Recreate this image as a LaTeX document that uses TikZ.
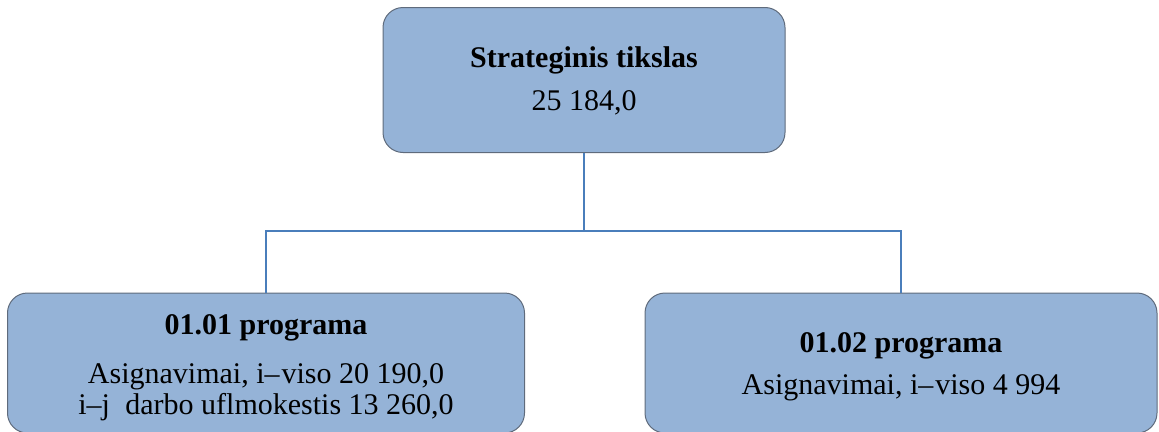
\documentclass[tikz,border=0pt]{standalone}
\usepackage{fontspec}
\setmainfont{Liberation Serif}
\definecolor{boxfill}{HTML}{95B3D7}
\definecolor{boxline}{HTML}{5F6B7C}
\definecolor{conn}{HTML}{4A7EBB}
\begin{document}
\begin{tikzpicture}[x=1pt,y=-1pt,
  box/.style={draw=boxline, line width=1pt, fill=boxfill, rounded corners=20pt, inner sep=0pt, minimum width=#1},
  link/.style={draw=conn, line width=2.6pt},
  txt/.style={anchor=base, inner sep=0pt, font=\fontsize{30}{36}\selectfont},
  btxt/.style={txt, font=\fontsize{30}{36}\selectfont\bfseries}]
\useasboundingbox (0,0) rectangle (1159,431);
\begin{scope}
\clip (0,0) rectangle (1159,431);
\node[box=402pt, minimum height=145pt] (top) at (584,80) {};
\node[box=517pt, minimum height=140pt] (left) at (266,363) {};
\node[box=512pt, minimum height=140pt] (right) at (901,363) {};
\coordinate (mid) at (584,231);
\draw[link] (top.south) -- (mid);
\draw[link] (left.north) |- (mid) -| (right.north);
\end{scope}
\node[btxt] (t1) at (584,67) {Strateginis tikslas};
\node[txt] (t2) at (584,110) {25 184,0};
\node[btxt] (l1) at (266,334) {01.01 programa};
\node[txt] (l2) at (266,383) {Asignavimai, i–\kern2pt viso 20 190,0};
\node[txt] (l3) at (266,414) {i–j\hspace{8pt} darbo uflmokestis 13 260,0};
\node[btxt] (r1) at (901,352) {01.02 programa};
\node[txt] (r2) at (901,394) {Asignavimai, i–\kern2pt viso 4 994};
\end{tikzpicture}
\end{document}
